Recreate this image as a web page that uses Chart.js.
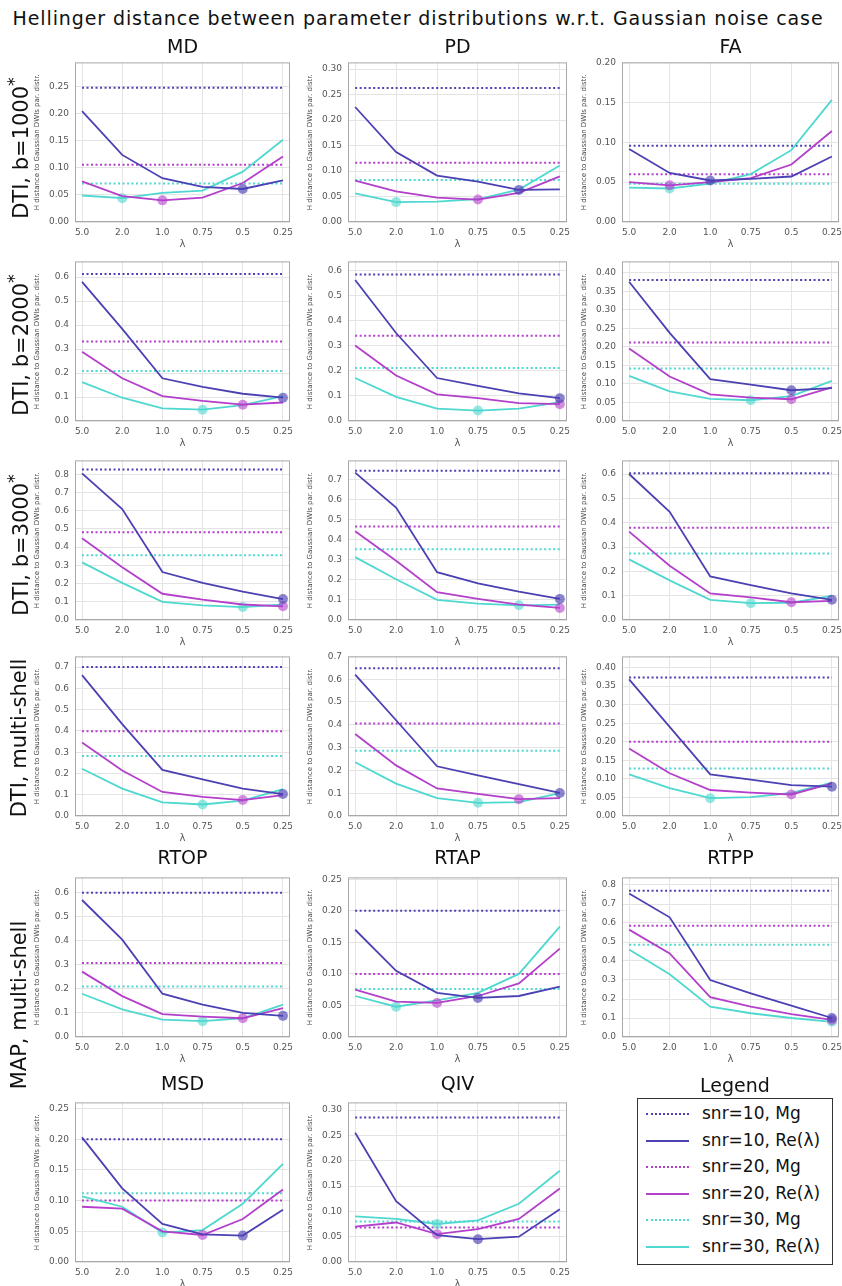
<!DOCTYPE html>
<html>
<head>
<meta charset="utf-8">
<script src="https://cdn.jsdelivr.net/npm/chart.js@4.4.1/dist/chart.umd.min.js"></script>
<style>
  body { margin: 0; background: #fff; font-family: "DejaVu Sans", sans-serif; }
  #page { position: relative; width: 842px; height: 1286px; overflow: hidden; }
  #page canvas, .txt { position: absolute; }
  .txt { white-space: nowrap; color: #111; line-height: 1; }
  .rot { transform: translate(-50%, -50%) rotate(-90deg); }
  .ctr { transform: translate(-50%, -50%); }
  #legend { position: absolute; left: 637px; top: 1098px; width: 194px; height: 165px; border: 1px solid #333; }
  #legend .row { position: absolute; left: 8px; width: 180px; height: 20px; }
  #legend .sample { position: absolute; left: 0; top: 10px; width: 43px; }
  #legend .lab { position: absolute; left: 56px; top: 0; font-size: 17px; line-height: 20px; color: #111; white-space: nowrap; }
</style>
</head>
<body>
<div id="page"></div>
<script>
// x categories (regularisation lambda)
const lambdas = ['5.0', '2.0', '1.0', '0.75', '0.5', '0.25'];

const panelNames = ['MD', 'PD', 'FA', 'MD', 'PD', 'FA', 'MD', 'PD', 'FA',
                    'MD', 'PD', 'FA', 'RTOP', 'RTAP', 'RTPP', 'MSD', 'QIV'];

// y axis range and tick step for each panel
const yMax  = [0.295, 0.313, 0.2, 0.665, 0.635, 0.431, 0.876, 0.794, 0.656,
               0.75, 0.70, 0.43, 0.664, 0.253, 0.84, 0.26, 0.315];
const yStep = [0.05, 0.05, 0.05, 0.1, 0.1, 0.05, 0.1, 0.1, 0.1,
               0.1, 0.1, 0.05, 0.1, 0.05, 0.1, 0.05, 0.05];

// Mg reference levels (dotted lines)
const mg10 = [0.248, 0.263, 0.0957, 0.613, 0.583, 0.381, 0.826, 0.742, 0.603,
              0.70, 0.648, 0.373, 0.60, 0.20, 0.77, 0.20, 0.285];
const mg20 = [0.106, 0.116, 0.0598, 0.331, 0.339, 0.212, 0.481, 0.465, 0.379,
              0.398, 0.406, 0.20, 0.308, 0.10, 0.585, 0.10, 0.068];
const mg30 = [0.071, 0.0826, 0.048, 0.208, 0.211, 0.142, 0.355, 0.352, 0.273,
              0.282, 0.286, 0.128, 0.21, 0.076, 0.485, 0.112, 0.08];

// Re(lambda) curves, one row per panel
const re10 = [
  [0.205, 0.124, 0.081, 0.065, 0.061, 0.077],
  [0.2255, 0.137, 0.091, 0.079, 0.063, 0.064],
  [0.0915, 0.0614, 0.052, 0.054, 0.057, 0.082],
  [0.58, 0.384, 0.178, 0.142, 0.1135, 0.097],
  [0.561, 0.35, 0.171, 0.14, 0.110, 0.0907],
  [0.376, 0.238, 0.113, 0.098, 0.083, 0.089],
  [0.805, 0.609, 0.263, 0.204, 0.156, 0.115],
  [0.733, 0.559, 0.238, 0.182, 0.141, 0.105],
  [0.60, 0.445, 0.179, 0.143, 0.109, 0.083],
  [0.662, 0.432, 0.217, 0.172, 0.129, 0.103],
  [0.62, 0.42, 0.218, 0.178, 0.140, 0.101],
  [0.368, 0.24, 0.112, 0.098, 0.083, 0.079],
  [0.57, 0.405, 0.18, 0.135, 0.10, 0.088],
  [0.17, 0.105, 0.07, 0.062, 0.065, 0.08],
  [0.755, 0.63, 0.30, 0.23, 0.165, 0.10],
  [0.203, 0.12, 0.062, 0.045, 0.043, 0.085],
  [0.255, 0.12, 0.053, 0.045, 0.05, 0.104]
];
const re20 = [
  [0.075, 0.048, 0.040, 0.045, 0.072, 0.121],
  [0.081, 0.060, 0.048, 0.044, 0.057, 0.0896],
  [0.050, 0.046, 0.050, 0.055, 0.072, 0.114],
  [0.289, 0.178, 0.104, 0.084, 0.068, 0.077],
  [0.30, 0.181, 0.106, 0.091, 0.071, 0.067],
  [0.196, 0.12, 0.072, 0.063, 0.0587, 0.091],
  [0.449, 0.29, 0.144, 0.112, 0.085, 0.075],
  [0.441, 0.295, 0.138, 0.105, 0.076, 0.06],
  [0.363, 0.223, 0.109, 0.093, 0.073, 0.079],
  [0.345, 0.214, 0.113, 0.090, 0.075, 0.098],
  [0.36, 0.222, 0.121, 0.097, 0.074, 0.078],
  [0.182, 0.115, 0.07, 0.063, 0.058, 0.088],
  [0.272, 0.17, 0.095, 0.085, 0.078, 0.12],
  [0.075, 0.056, 0.054, 0.065, 0.085, 0.14],
  [0.565, 0.44, 0.21, 0.16, 0.12, 0.09],
  [0.09, 0.087, 0.05, 0.044, 0.07, 0.118],
  [0.07, 0.078, 0.055, 0.065, 0.085, 0.145]
];
const re30 = [
  [0.049, 0.044, 0.054, 0.058, 0.093, 0.152],
  [0.056, 0.039, 0.040, 0.045, 0.0635, 0.111],
  [0.043, 0.042, 0.048, 0.060, 0.090, 0.153],
  [0.162, 0.097, 0.053, 0.047, 0.066, 0.104],
  [0.171, 0.096, 0.049, 0.0415, 0.049, 0.075],
  [0.122, 0.080, 0.060, 0.056, 0.067, 0.1086],
  [0.316, 0.204, 0.0995, 0.08, 0.071, 0.085],
  [0.313, 0.203, 0.10, 0.081, 0.073, 0.076],
  [0.249, 0.163, 0.083, 0.069, 0.071, 0.099],
  [0.222, 0.129, 0.064, 0.054, 0.072, 0.126],
  [0.236, 0.142, 0.078, 0.058, 0.061, 0.10],
  [0.112, 0.075, 0.048, 0.051, 0.062, 0.09],
  [0.18, 0.115, 0.072, 0.066, 0.078, 0.135],
  [0.065, 0.048, 0.058, 0.07, 0.10, 0.175],
  [0.46, 0.33, 0.16, 0.125, 0.10, 0.08],
  [0.107, 0.09, 0.048, 0.052, 0.095, 0.16],
  [0.09, 0.085, 0.075, 0.082, 0.115, 0.18]
];

const series = [
  { snr: 10, mg: mg10, re: re10, color: '#4b41b3', fade: 'rgba(75,65,179,0.65)' },
  { snr: 20, mg: mg20, re: re20, color: '#b43fcb', fade: 'rgba(180,63,203,0.6)' },
  { snr: 30, mg: mg30, re: re30, color: '#4fd8cf', fade: 'rgba(79,216,207,0.6)' }
];

// page layout
const colLeft = [75, 348, 622];
const colWidth = [215, 219, 217];
const rowTop = [57, 256, 455, 651, 872, 1097];
const PLOT_H = 165, AXIS_W = 44, AXIS_H = 28, PAD_T = 6, PAD_R = 12;
const FONT = 'DejaVu Sans';
const tickColor = '#555';

const page = document.getElementById('page');

function addText(html, x, y, size, cls, spacing) {
  let d = document.createElement('div');
  d.className = 'txt ' + cls;
  d.style.left = x + 'px';
  d.style.top = y + 'px';
  d.style.fontSize = size + 'px';
  if (spacing) d.style.letterSpacing = spacing + 'px';
  d.innerHTML = html;
  page.appendChild(d);
}

const frame = {
  id: 'frame',
  beforeDatasetsDraw(chart) {
    let { ctx, chartArea: a } = chart;
    ctx.save();
    ctx.strokeStyle = '#a8a8a8';
    ctx.lineWidth = 1;
    ctx.strokeRect(a.left + 0.5, a.top + 0.5, a.right - a.left - 1, a.bottom - a.top - 1);
    ctx.restore();
  }
};

function makePanel(i) {
  let r = Math.floor(i / 3), c = i % 3;
  let canvas = document.createElement('canvas');
  let w = AXIS_W + colWidth[c] + PAD_R, h = PAD_T + PLOT_H + AXIS_H;
  canvas.width = w;
  canvas.height = h;
  canvas.style.left = (colLeft[c] - AXIS_W) + 'px';
  canvas.style.top = (rowTop[r] - PAD_T) + 'px';
  canvas.style.width = w + 'px';
  canvas.style.height = h + 'px';
  page.appendChild(canvas);

  let datasets = [];
  series.forEach(s => {
    let vals = s.re[i];
    let best = vals.indexOf(Math.min(...vals));
    datasets.push({
      label: 'snr=' + s.snr + ', Re(λ)',
      data: vals.map((v, j) => ({ x: j, y: v })),
      borderColor: s.color,
      borderWidth: 1.8,
      pointRadius: vals.map((v, j) => j === best ? 5 : 0),
      pointBackgroundColor: s.fade,
      pointBorderWidth: 0
    });
  });
  series.forEach(s => {
    datasets.push({
      label: 'snr=' + s.snr + ', Mg',
      data: lambdas.map((l, j) => ({ x: j, y: s.mg[i] })),
      borderColor: s.color,
      borderWidth: 2,
      borderDash: [2, 2.5],
      pointRadius: 0
    });
  });

  let step = yStep[i];
  let dec = step < 0.1 ? 2 : 1;

  new Chart(canvas, {
    type: 'line',
    data: { datasets: datasets },
    options: {
      responsive: false,
      animation: false,
      devicePixelRatio: 1,
      layout: { padding: { top: PAD_T, right: PAD_R, left: 0, bottom: 0 } },
      plugins: { legend: { display: false }, tooltip: { enabled: false } },
      scales: {
        x: {
          type: 'linear',
          min: -0.175,
          max: 5.175,
          afterBuildTicks: s => { s.ticks = lambdas.map((l, j) => ({ value: j })); },
          afterFit: s => { s.height = AXIS_H; },
          grid: { color: '#e4e4e4', drawTicks: false },
          border: { display: false },
          ticks: {
            padding: 5, color: tickColor, autoSkip: false, maxRotation: 0,
            font: { family: FONT, size: 9 },
            callback: v => lambdas[v]
          },
          title: { display: true, text: 'λ', color: tickColor, padding: 0, font: { family: FONT, size: 10 } }
        },
        y: {
          min: 0,
          max: yMax[i],
          afterBuildTicks: s => {
            let t = [];
            for (let k = 0; k * step <= yMax[i] + 1e-9; k++) t.push({ value: +(k * step).toFixed(4) });
            s.ticks = t;
          },
          afterFit: s => { s.width = AXIS_W; },
          grid: { color: '#e4e4e4', drawTicks: false },
          border: { display: false },
          ticks: {
            padding: 6, color: tickColor,
            font: { family: FONT, size: 9 },
            callback: v => v.toFixed(dec)
          },
          title: {
            display: true, text: 'H distance to Gaussian DWIs par. distr.', color: '#444',
            padding: { top: 2, bottom: 0 }, font: { family: FONT, size: 7 }
          }
        }
      }
    },
    plugins: [frame]
  });
}

for (let i = 0; i < panelNames.length; i++) makePanel(i);

// titles
addText('Hellinger distance between parameter distributions w.r.t. Gaussian noise case', 418, 18, 19, 'ctr', 0.9);
const titleY = [46, null, null, null, 857, 1083];
for (let i = 0; i < panelNames.length; i++) {
  let r = Math.floor(i / 3), c = i % 3;
  if (titleY[r] === null) continue;
  addText(panelNames[i], colLeft[c] + colWidth[c] / 2, titleY[r], 19, 'ctr');
}
addText('Legend', 735, 1085, 19, 'ctr');

// row labels
const rowLabels = ['DTI, b=1000<sup>*</sup>', 'DTI, b=2000<sup>*</sup>', 'DTI, b=3000<sup>*</sup>',
                   'DTI, multi-shell', 'MAP, multi-shell'];
const rowLabelY = [148, 345, 545, 738, 1005];
rowLabels.forEach((t, k) => addText(t, 19, rowLabelY[k], 21, 'rot'));

// legend box
const legend = document.createElement('div');
legend.id = 'legend';
page.appendChild(legend);
let n = 0;
series.forEach(s => {
  ['Mg', 'Re(λ)'].forEach(kind => {
    let row = document.createElement('div');
    row.className = 'row';
    row.style.top = (4 + n * 26.5) + 'px';
    let line = kind === 'Mg' ? '2px dotted ' + s.color : '2px solid ' + s.color;
    row.innerHTML = '<div class="sample" style="border-top:' + line + '"></div>' +
                    '<div class="lab">snr=' + s.snr + ', ' + kind + '</div>';
    legend.appendChild(row);
    n++;
  });
});
</script>
</body>
</html>
